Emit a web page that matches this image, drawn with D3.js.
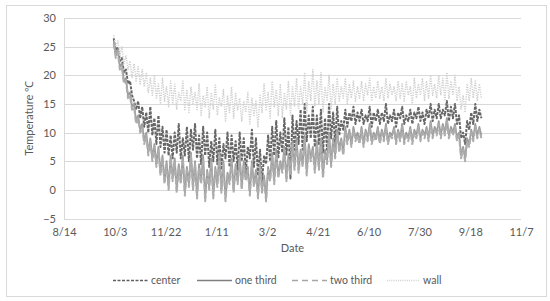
<!DOCTYPE html>
<html>
<head>
<meta charset="utf-8">
<script src="https://cdn.jsdelivr.net/npm/d3@7"></script>
<style>
  html, body { margin: 0; padding: 0; background: #fff; }
  svg { display: block; }
  text { font-family: Lato, "Open Sans", "Liberation Sans", sans-serif; fill: #595959; }
</style>
</head>
<body>
<svg id="chart" width="550" height="301"></svg>
<script>
// ---- data (sampled every 2 days starting 10/2) ----
const seriesStart = "2014-10-02";
const stepDays = 2;
const seriesNames = ["center", "one third", "two third", "wall"];

const center = [
  26.5, 24, 25, 22.5, 23, 20.5, 21, 18.5, 19, 16.5,
  15.5, 14, 15.5, 12.5, 14.5, 11, 13.5, 10, 14.5, 9.5,
  12.5, 8, 13, 7.5, 11, 6.5, 10.5, 6, 9.5, 5.5,
  10, 6.5, 11.5, 5.5, 9, 6, 11, 5, 10.5, 7,
  11.5, 5.5, 9.5, 4.5, 11, 6, 10, 4, 8.5, 5,
  10.5, 4.5, 9, 3.5, 8, 5.5, 10, 4, 9.5, 5,
  8.5, 3.5, 10, 5, 9, 3, 7.5, 5.5, 10.5, 4,
  9, 2.5, 7, 1.5, 6, 4.5, 9.5, 5, 11, 6,
  12, 5.5, 10, 6.5, 12.5, 6, 11, 2, 13, 7,
  12, 8, 14, 7, 15, 8.5, 13, 9, 14.5, 7.5,
  13, 8, 14, 6.5, 12.5, 7, 15, 9, 13.5, 8,
  14.5, 9.5, 12, 10.5, 14, 11, 13.5, 12, 14.5, 11.5,
  13.5, 12, 14, 11.5, 13, 12, 14.5, 11, 13.5, 12,
  14, 11.5, 13.5, 12, 15, 11.5, 13, 12, 14, 11,
  13.5, 12.5, 14.5, 11.5, 13, 12, 14, 11.5, 13.5, 12.5,
  14.5, 12, 13.5, 11.5, 14, 12.5, 15, 12, 14, 12.5,
  15, 12.5, 14, 13, 15.5, 12, 14.5, 12.5, 15, 11.5,
  13, 9, 10, 8, 12, 10.5, 13.5, 11.5, 15, 12,
  14, 12.5
];
const oneThird = [
  26, 23.5, 24.5, 21.5, 22, 19, 19.5, 16.5, 17, 14.5,
  15, 12, 13, 10.5, 11.5, 8.5, 10, 6.5, 9, 5.5,
  8, 4.5, 7.5, 3, 6, 1.5, 5, 0.5, 6, 2,
  5.5, 0, 4.5, 1.5, 6, -0.5, 4, 1, 6.5, 0.5,
  5, -1, 4.5, 1.5, 6, -1.5, 3.5, 0.5, 5.5, -1,
  4, 1, 6.5, 0, 5, -1.5, 3, 1.5, 5.5, 0,
  4.5, 1.5, 6, 0.5, 5, 2, 4, -0.5, 5, 1,
  3.5, -1, 4.5, 0, 2.5, -1.5, 4, 2, 6.5, 1.5,
  7, 2.5, 5, 3.5, 7.5, 2, 6, 3, 8.5, 4,
  9, 3.5, 7, 4.5, 9.5, 3, 8, 5.5, 7.5, 3.5,
  8.5, 4, 9, 2.5, 7, 5, 10, 4.5, 9, 6,
  10.5, 7, 9, 6.5, 11, 8.5, 10.5, 8, 11, 9,
  10, 8.5, 11, 8, 10.5, 9, 11.5, 8.5, 10, 9,
  11, 8.5, 10.5, 9, 11.5, 8.5, 10, 9.5, 11, 8.5,
  10.5, 9, 11.5, 8.5, 10, 9, 11, 8.5, 10.5, 9.5,
  11.5, 9, 10.5, 9.5, 11, 9, 12, 9.5, 11, 10,
  12, 9.5, 11.5, 10, 12.5, 9.5, 11, 10, 11.5, 9,
  10, 6, 7.5, 5.5, 9, 8, 10.5, 9, 11.5, 9.5,
  11, 9.5
];
const twoThird = [
  25.5, 23, 24, 21, 21.5, 18.5, 19, 16, 16.5, 14,
  14.5, 11.5, 12.5, 10, 11, 8, 9.5, 6, 8.5, 5,
  7.5, 4, 7, 2.5, 5.5, 1, 4.5, 0, 5.5, 1.5,
  5, -0.5, 4, 1, 5.5, -1, 3.5, 0.5, 6, 0,
  4.5, -1.5, 4, 1, 5.5, -2, 3, 0, 5, -1.5,
  3.5, 0.5, 6, -0.5, 4.5, -2, 2.5, 1, 5, -0.5,
  4, 1, 5.5, 0, 4.5, 1.5, 3.5, -1, 4.5, 0.5,
  3, -1.5, 4, -0.5, 2, -2, 3.5, 1.5, 6, 1,
  6.5, 2, 4.5, 3, 7, 1.5, 5.5, 2.5, 8, 3.5,
  8.5, 3, 6.5, 4, 9, 2.5, 7.5, 5, 7, 3,
  8, 3.5, 8.5, 2, 6.5, 4.5, 9.5, 4, 8.5, 5.5,
  10, 6.5, 8.5, 6, 10.5, 8, 10, 7.5, 10.5, 8.5,
  9.5, 8, 10.5, 7.5, 10, 8.5, 11, 8, 9.5, 8.5,
  10.5, 8, 10, 8.5, 11, 8, 9.5, 9, 10.5, 8,
  10, 8.5, 11, 8, 9.5, 8.5, 10.5, 8, 10, 9,
  11, 8.5, 10, 9, 10.5, 8.5, 11.5, 9, 10.5, 9.5,
  11.5, 9, 11, 9.5, 12, 9, 10.5, 9.5, 11, 8.5,
  9.5, 5.5, 7, 5, 8.5, 7.5, 10, 8.5, 11, 9,
  10.5, 9
];
const wall = [
  27, 25, 26, 23.5, 25, 22, 23.5, 21, 22.5, 19.5,
  22, 19, 21.5, 18.5, 21, 18, 20.5, 17, 19.5, 16.5,
  20, 16, 18.5, 15, 19.5, 15.5, 18, 14.5, 19, 15,
  18.5, 14, 17, 15.5, 19, 14, 17.5, 13.5, 18, 15,
  17, 14, 18.5, 13, 16.5, 14.5, 18, 12.5, 17, 14,
  18.5, 13, 16, 14.5, 17.5, 12, 16.5, 13.5, 18, 12.5,
  17, 14, 16, 12, 15.5, 13.5, 17, 11.5, 16, 13,
  15.5, 11, 16.5, 13.5, 18.5, 14, 17, 12.5, 19, 14.5,
  17.5, 13, 18.5, 12.5, 17, 14, 19, 13, 18, 14.5,
  19.5, 14, 18, 15, 20.5, 13.5, 19, 15.5, 21, 14.5,
  19, 15, 20.5, 13.5, 18, 15.5, 20, 14, 18.5, 15,
  19.5, 15.5, 18, 16, 19.5, 15, 18.5, 16, 19, 15.5,
  18, 16, 19, 15.5, 18.5, 16.5, 19.5, 15.5, 18, 16,
  19, 16, 18, 15.5, 19.5, 16, 18.5, 16.5, 18, 15.5,
  19, 16, 18.5, 15.5, 19, 16.5, 18, 15, 19.5, 16,
  18.5, 16.5, 19.5, 15.5, 19, 16, 20, 16.5, 18.5, 16,
  20, 16.5, 19.5, 15.5, 20.5, 16, 19, 16.5, 20, 15.5,
  18, 14, 16.5, 13.5, 18.5, 15.5, 19.5, 16, 19, 15.5,
  18.5, 16
];
const xTickLabels = ["8/14", "10/3", "11/22", "1/11", "3/2", "4/21", "6/10", "7/30", "9/18", "11/7"];
const yTicks = [-5, 0, 5, 10, 15, 20, 25, 30];
const xTitle = "Date";
const yTitle = "Temperature ℃";

// ---- setup ----
const svg = d3.select("#chart");
const margin = { left: 64, right: 521, top: 18, bottom: 218.5 };
const parse = d3.utcParse("%Y-%m-%d");
const axisStart = parse("2014-08-14");
const tickDates = xTickLabels.map((_, i) => d3.utcDay.offset(axisStart, 50 * i));
const x = d3.scaleUtc().domain([tickDates[0], tickDates[tickDates.length - 1]]).range([margin.left, margin.right]);
const y = d3.scaleLinear().domain([-5, 30]).range([margin.bottom, margin.top]);

// outer border
svg.append("rect").attr("x", 6.5).attr("y", 5.5).attr("width", 540).attr("height", 291)
  .attr("fill", "#fff").attr("stroke", "#d9d9d9").attr("stroke-width", 1);

// gridlines
svg.append("g").selectAll("line").data(yTicks).join("line")
  .attr("x1", margin.left).attr("x2", margin.right)
  .attr("y1", d => Math.round(y(d)) + 0.5).attr("y2", d => Math.round(y(d)) + 0.5)
  .attr("stroke", "#d9d9d9").attr("stroke-width", 1);
// left axis line
svg.append("line").attr("x1", margin.left + 0.5).attr("x2", margin.left + 0.5)
  .attr("y1", Math.round(y(30)) + 0.5).attr("y2", Math.round(y(-5)) + 0.5)
  .attr("stroke", "#d9d9d9");

// y axis labels
const yAxis = d3.axisLeft(y).tickValues(yTicks).tickSize(0).tickPadding(8);
const gy = svg.append("g").attr("transform", `translate(${margin.left},0)`).call(yAxis);
gy.select(".domain").remove();
gy.selectAll("text").style("font-size", "11px").attr("fill", "#595959")
  .style("font-family", "Lato, 'Open Sans', sans-serif");

// x axis labels
const xAxis = d3.axisBottom(x).tickValues(tickDates).tickSize(0).tickPadding(10)
  .tickFormat((d, i) => xTickLabels[i]);
const gx = svg.append("g").attr("transform", `translate(0,${margin.bottom})`).call(xAxis);
gx.select(".domain").remove();
gx.selectAll("text").style("font-size", "11px").attr("fill", "#595959")
  .style("font-family", "Lato, 'Open Sans', sans-serif");

// titles
svg.append("text").attr("x", (margin.left + margin.right) / 2).attr("y", 252)
  .attr("text-anchor", "middle").style("font-size", "11px").text(xTitle);
svg.append("text").attr("transform", `translate(33,${(margin.top + margin.bottom) / 2}) rotate(-90)`)
  .attr("text-anchor", "middle").style("font-size", "11px").text(yTitle);

// series
const start = parse(seriesStart);
const styles = [
  { name: seriesNames[0], values: center, color: "#666666", dash: "3,1.2", width: 2 },
  { name: seriesNames[1], values: oneThird, color: "#9c9c9c", dash: null, width: 1.8 },
  { name: seriesNames[2], values: twoThird, color: "#adadad", dash: "6,2.5", width: 2 },
  { name: seriesNames[3], values: wall, color: "#d0d0d0", dash: "1.2,1.2", width: 1.5 }
];
const line = d3.line().x(d => x(d.date)).y(d => y(d.v));
styles.forEach(s => {
  const pts = s.values.map((v, i) => ({ date: d3.utcDay.offset(start, stepDays * i), v }));
  svg.append("path").datum(pts).attr("d", line)
    .attr("fill", "none").attr("stroke", s.color).attr("stroke-width", s.width)
    .attr("stroke-dasharray", s.dash).attr("stroke-linejoin", "round");
});

// legend
const legendItems = [
  { x1: 113, x2: 148 },
  { x1: 197, x2: 232 },
  { x1: 292, x2: 327 },
  { x1: 387, x2: 420 }
];
const legendDash = ["3,1.5", null, "6,4", "1,1.2"];
const legendColor = ["#5f5f5f", "#7f7f7f", "#a6a6a6", "#cfcfcf"];
const lg = svg.append("g");
styles.forEach((s, i) => {
  const it = legendItems[i];
  lg.append("line").attr("x1", it.x1).attr("x2", it.x2).attr("y1", 280.5).attr("y2", 280.5)
    .attr("stroke", legendColor[i]).attr("stroke-width", 1.5).attr("stroke-dasharray", legendDash[i]);
  lg.append("text").attr("x", it.x2 + 3).attr("y", 284).style("font-size", "10.5px").text(s.name);
});
</script>
</body>
</html>
